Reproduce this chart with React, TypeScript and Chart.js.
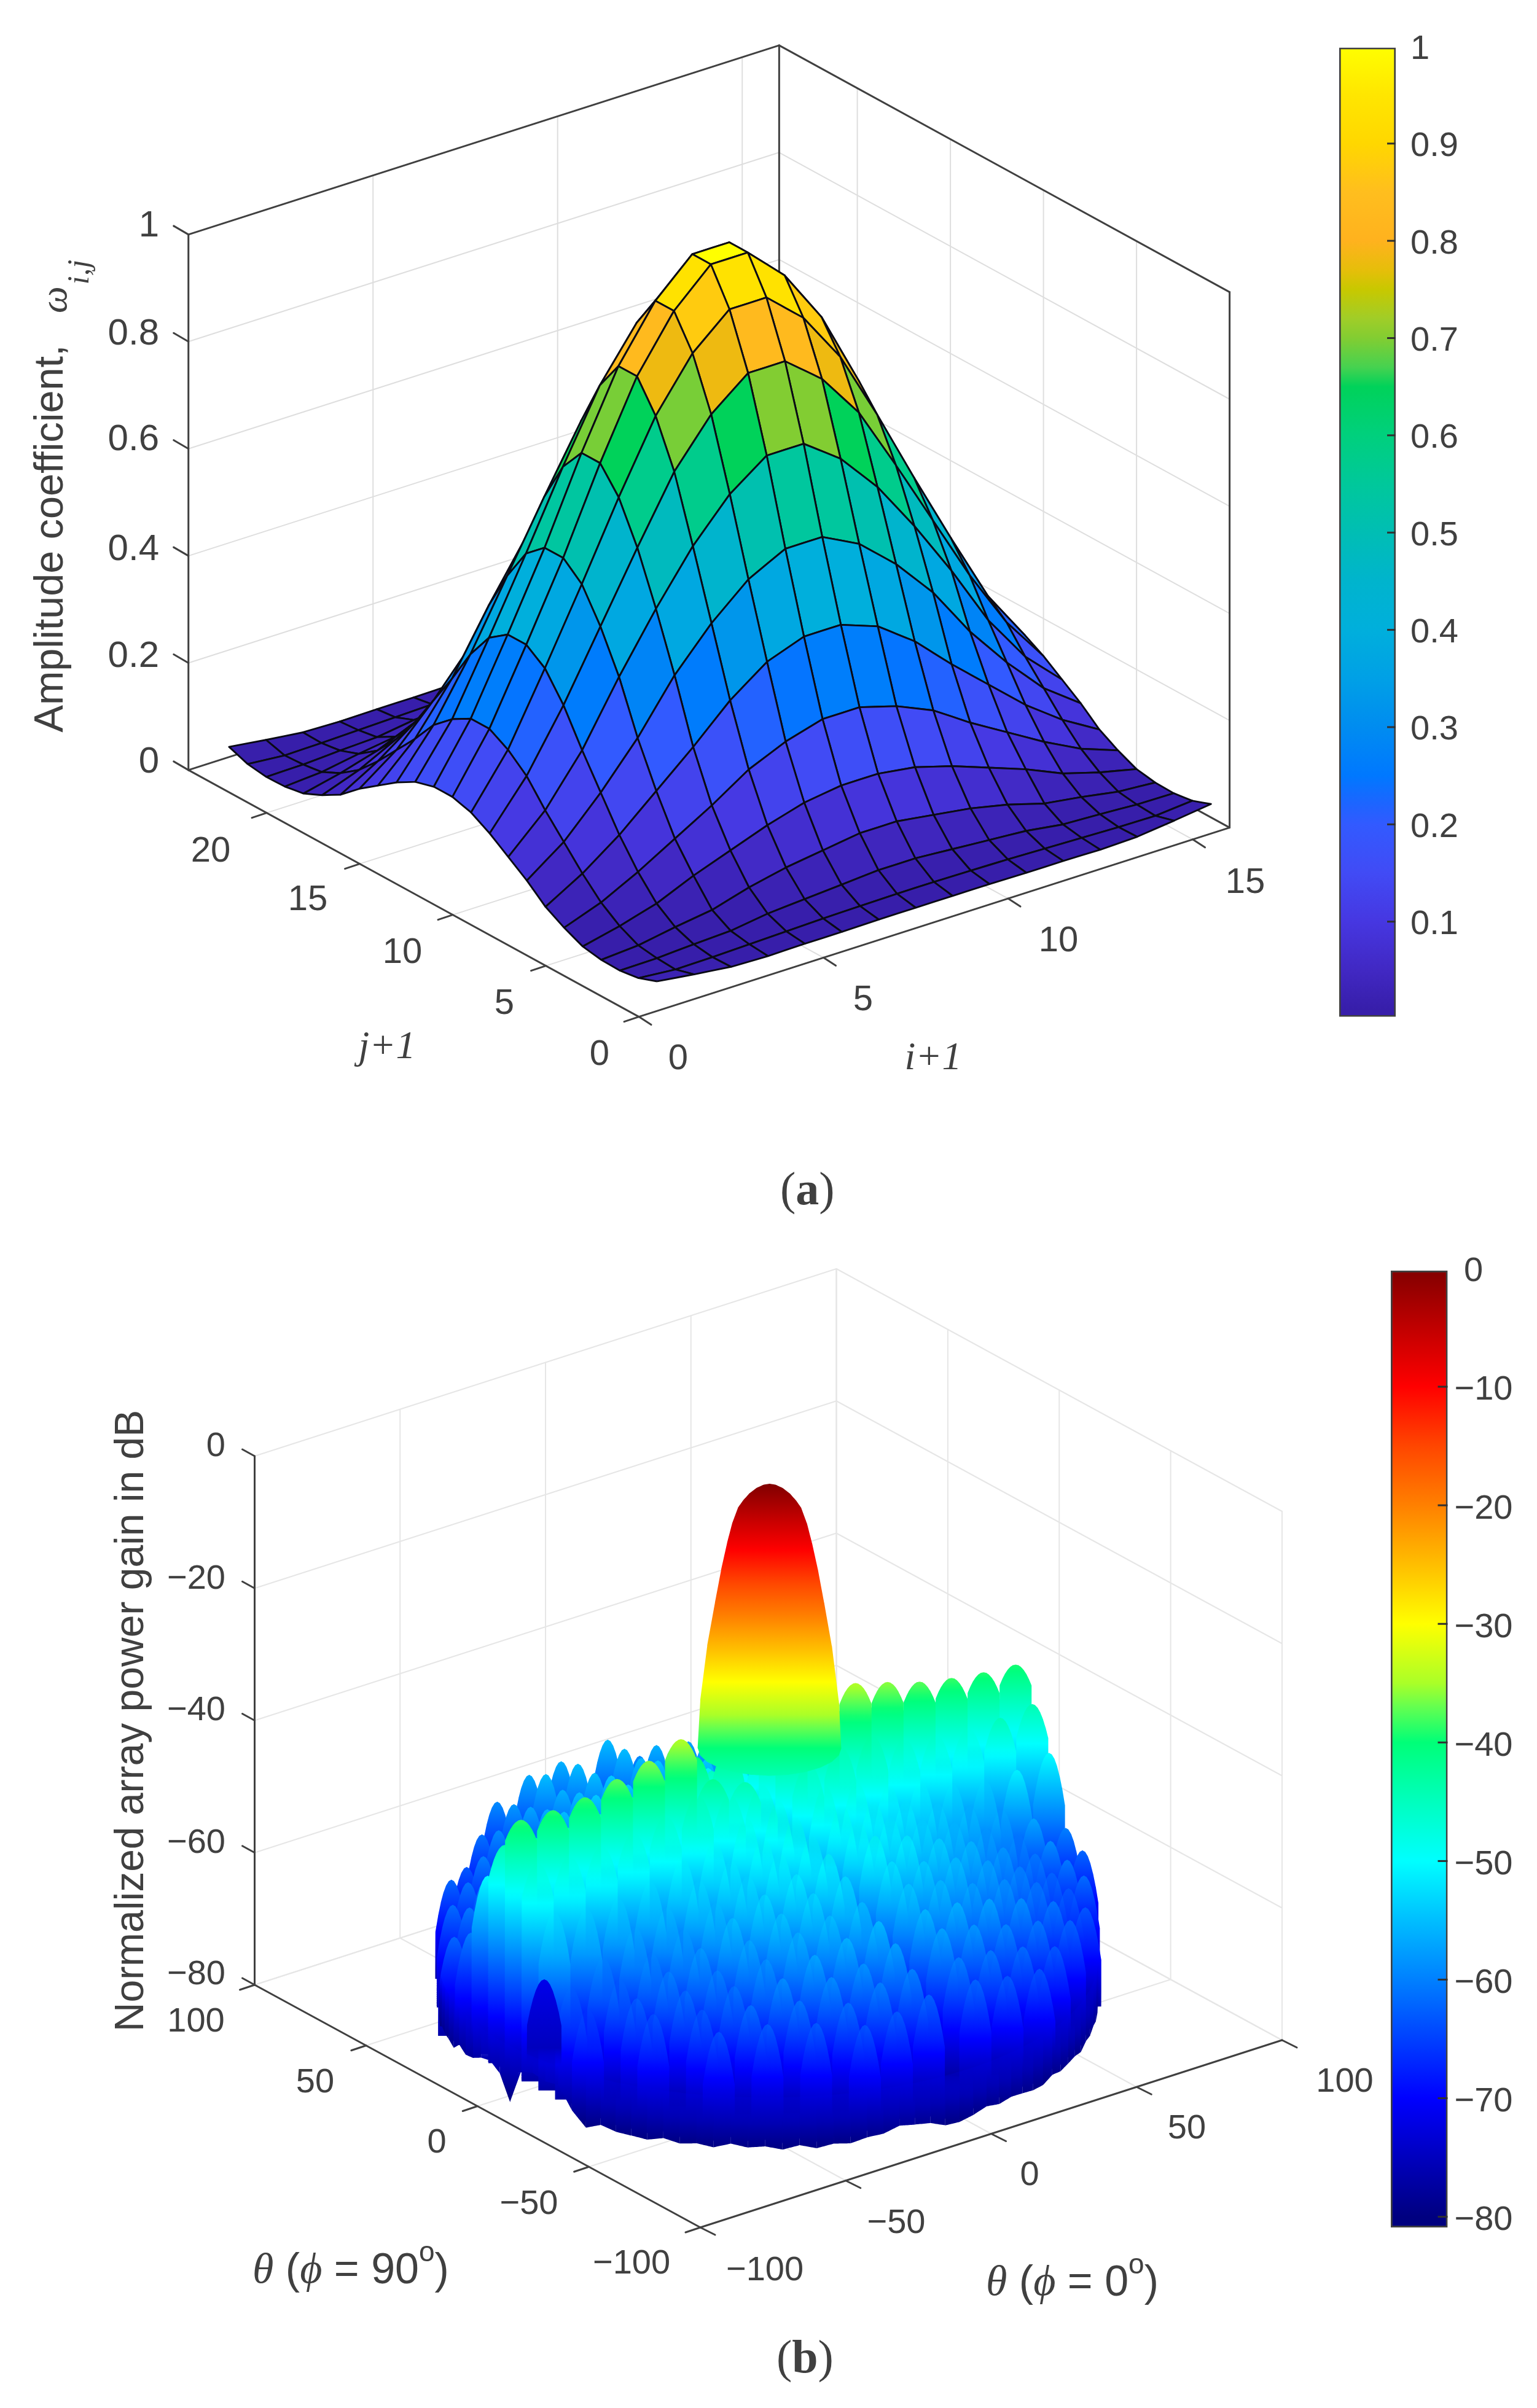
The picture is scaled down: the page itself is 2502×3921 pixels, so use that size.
import { useEffect, useRef } from "react";
import { Chart, registerables } from "chart.js";

Chart.register(...registerables);

/* ---------- panel (a): amplitude coefficients, rows j+1 = 1..24, columns i+1 = 1..16 ---------- */
const ampRows: number[][] = [
  [.025,.016,.008,.006,.007,.007,.008,.008,.008,.008,.007,.007,.006,.008,.016,.025],
  [.012,.006,.007,.009,.011,.013,.014,.015,.015,.014,.013,.011,.009,.007,.006,.012],
  [.007,.008,.012,.015,.025,.03,.035,.04,.04,.035,.03,.025,.015,.012,.008,.007],
  [.008,.013,.025,.035,.055,.07,.08,.09,.09,.08,.07,.055,.035,.025,.013,.008],
  [.014,.03,.05,.08,.105,.13,.15,.16,.16,.15,.13,.105,.08,.05,.03,.014],
  [.03,.055,.09,.13,.17,.215,.245,.265,.265,.245,.215,.17,.13,.09,.055,.03],
  [.05,.09,.14,.2,.26,.325,.375,.4,.4,.375,.325,.26,.2,.14,.09,.05],
  [.08,.13,.2,.28,.375,.45,.51,.545,.545,.51,.45,.375,.28,.2,.13,.08],
  [.105,.17,.26,.375,.48,.575,.65,.7,.7,.65,.575,.48,.375,.26,.17,.105],
  [.13,.215,.325,.45,.575,.695,.78,.835,.835,.78,.695,.575,.45,.325,.215,.13],
  [.15,.245,.375,.51,.65,.78,.875,.935,.935,.875,.78,.65,.51,.375,.245,.15],
  [.16,.265,.4,.54,.695,.835,.935,1,1,.935,.835,.695,.54,.4,.265,.16],
  [.16,.265,.4,.54,.695,.835,.935,1,1,.935,.835,.695,.54,.4,.265,.16],
  [.15,.245,.375,.51,.65,.78,.875,.935,.935,.875,.78,.65,.51,.375,.245,.15],
  [.13,.215,.325,.45,.575,.695,.78,.835,.835,.78,.695,.575,.45,.325,.215,.13],
  [.105,.17,.26,.375,.48,.575,.65,.7,.7,.65,.575,.48,.375,.26,.17,.105],
  [.08,.13,.2,.28,.375,.45,.51,.545,.545,.51,.45,.375,.28,.2,.13,.08],
  [.05,.09,.14,.2,.26,.325,.375,.4,.4,.375,.325,.26,.2,.14,.09,.05],
  [.03,.055,.09,.13,.17,.215,.245,.265,.265,.245,.215,.17,.13,.09,.055,.03],
  [.014,.03,.05,.08,.105,.13,.15,.16,.16,.15,.13,.105,.08,.05,.03,.014],
  [.008,.013,.025,.035,.055,.07,.08,.09,.09,.08,.07,.055,.035,.025,.013,.008],
  [.007,.008,.012,.015,.025,.03,.035,.04,.04,.035,.03,.025,.015,.012,.008,.007],
  [.012,.006,.007,.009,.011,.013,.014,.015,.015,.014,.013,.011,.009,.007,.006,.012],
  [.025,.016,.008,.006,.007,.007,.008,.008,.008,.008,.007,.007,.006,.008,.016,.025],
];
const ampITicks = [0, 5, 10, 15];
const ampJTicks = [0, 5, 10, 15, 20];
const ampZTicks = [0, 0.2, 0.4, 0.6, 0.8, 1];
const ampZTickLabels = ["0", "0.2", "0.4", "0.6", "0.8", "1"];
const ampBarTicks = [0.1, 0.2, 0.3, 0.4, 0.5, 0.6, 0.7, 0.8, 0.9, 1];
const ampBarValues = [0, 0.01, 0.05, 0.1, 0.15, 0.2, 0.22, 0.25, 0.3, 0.35, 0.4, 0.45, 0.5, 0.55, 0.6, 0.65, 0.67, 0.7, 0.72, 0.75, 0.77, 0.8, 0.85, 0.9, 0.95, 1];
const ampBarColors = ["#371eaa", "#371eaa", "#4128c3", "#4637e1", "#414bf5", "#325aff", "#1e64ff", "#0078ff", "#008cf0", "#00a0e6", "#00afdc", "#00b4cd", "#00beb4", "#00c89b", "#00d07d", "#00d25a", "#46d250", "#82cd32", "#a0cd28", "#c8c800", "#e6be0a", "#ffb21e", "#ffbe1e", "#ffd700", "#ffe600", "#ffff00"];

/* ---------- panel (b): sidelobe peak gains in dB ---------- */
const lobeThetaX = [-85, -74, -63, -52, -41, -30, -19, -8, 8, 19, 30, 41, 52, 63, 74, 85];
const lobeThetaY = [82.5, 75, 67.5, 60, 52.5, 45, 37.5, 30, 22.5, 15, 7.5, 0, -7.5, -15, -22.5, -30, -37.5, -45, -52.5, -60, -67.5, -75, -82.5];
const n = null;
const lobePeaks: (number | null)[][] = [
  [n,n,n,n,n,-59,-56.5,-56,-55,-59,-60,n,n,n,n,n],
  [n,n,n,n,-61,-58,-55,-55,-55,-56,-57,-58,n,n,n,n],
  [n,n,n,-63,-59,-57,-56,-55,-55,-55,-56,-57,-58,n,n,n],
  [n,n,-62,-60,-58,-56,-55,-54,-54,-55,-55,-56,-57,-58,n,n],
  [n,n,-61,-59,-57,-55,-54,-54,-53,-54,-55,-55,-56,-57,n,n],
  [n,-61.5,-59.5,-58,-56,-54,-53,-53,-52,-53,-54,-54,-55,-56,-57,n],
  [n,-60.5,-58,-57,-55,-53,-52,-52,-51,-52,-53,-53,-54,-55,-56,n],
  [-62,-59,-56.5,-57,-54,-52,-51,-50,-50,-51,-52,-52,-53,-54,-55,-56],
  [-60,-57,-54,-55,-52,-50,-49,-48,-48,-49,-50,-50,-51,-52,-53,-54],
  [-50,-51,-51,-50,-49,-47,-46,-45,-45,-46,-47,-47,-48,-49,-50,-52],
  [-44,-44.5,-44.5,-44,-43,-42,-40,-40,-38,-38,-40,-41,-43,-44,-45,-46],
  [-38.8,-38.9,-38.5,-37.3,-36.1,-34.4,-42,-44,-30,-33,-34.4,-35.8,-37.3,-38.3,-39,-39.4],
  [-44,-44.5,-44.5,-44,-43,-41.5,-43,-43,-42,-41,-41,-43,-44,-44.5,-44.5,-44],
  [-50,-51,-51,-50,-48,-47,-45,-44,-44,-45,-47,-48,-50,-51,-51,-50],
  [-60,-57,-54,-52.5,-50,-48.5,-46.5,-45,-45.5,-46.5,-48,-50,-52,-54,-57,-60],
  [-62,-59,-56.5,-54.5,-52,-49.5,-47.5,-46.5,-46.5,-47.5,-49.5,-51.5,-54,-56.5,-59,-62],
  [n,-60.5,-58,-56,-53,-51,-49.5,-48,-47.5,-49,-51,-53,-55.5,-58,-60.5,n],
  [n,-61.5,-59.5,-58,-55,-52.5,-51,-50,-50,-51.5,-52.5,-54.5,-57,-59.5,-61.5,n],
  [n,n,-61,-59,-56.5,-54,-53,-52.5,-52,-53,-55,-56,-58,-60.5,n,n],
  [n,n,-63,-60.5,-58,-56,-55,-54,-54.5,-55,-56,-57.5,-59.5,-62,n,n],
  [n,n,n,-62,-60,-58,-57.5,-56,-56,-57,-58.5,-59.5,-61,n,n,n],
  [n,n,n,n,-62,-60.5,-59,-58.5,-59,-59.5,-60.5,-62,n,n,n,n],
  [n,n,n,n,n,-62.5,-62,-61,-61,-62,-62.5,n,n,n,n,n],
];
const humpThetaX = [-66.7];
const humpThetaY = [13.5];
const humpPeak = [-68];
const mainLobeDb = [0, -0.15, -0.65, -1.5, -2.5, -3.6, -6, -9, -13, -18, -24.5, -32.8, -40];
const mainLobeHalfWidth = [0, 1.6, 3.6, 5.6, 7.2, 8.6, 10.2, 11.6, 13.2, 14.9, 17, 18.9, 19.6];
const rimAngles = [142,145,148,151,154,157,160,163,166,169,172,175,178,181,184,187,190,193,196,199,202,205,208,211,214,217,220,223,226,229,232,235,238,241,244,247,250,253,256,259,262,265,268,271,274,277,280,283,286,289,292,295,298,301,304,307,310,313,316,319,322];
const rimDb = [-79.5,-79.5,-80,-79,-79,-78.8,-79,-77.5,-78,-77.5,-76.5,-76,-77,-80.5,-75,-74.5,-75,-74.8,-78,-80,-79,-79.5,-79.6,-79.8,-79.2,-79.7,-79.4,-79.8,-79.1,-79.6,-79.4,-79.9,-79.3,-79.9,-79.4,-79.6,-79,-78.8,-78,-78.3,-78.6,-79.5,-79.6,-79.2,-78.6,-79,-78.7,-79,-79.4,-79.5,-78.9,-79.3,-79.1,-79,-79.4,-78.8,-79,-78.6,-79,-78.8,-78.6];
const gainXYTicks = [-100, -50, 0, 50, 100];
const gainZTicks = [0, -20, -40, -60, -80];
const gainBarTicks = [0, -10, -20, -30, -40, -50, -60, -70, -80];
const gainBarValues = [-82, -80, -75, -70, -65, -60, -55, -50, -45, -40, -37, -35, -30, -25, -20, -15, -10, -5, 0];
const gainBarColors = ["#000080", "#000080", "#0000be", "#0000ff", "#0040ff", "#0080ff", "#00beff", "#00ffff", "#00ffbe", "#00ff78", "#64ff50", "#aaff28", "#ffff00", "#ffbe00", "#ff8000", "#ff4600", "#ff0000", "#c00000", "#800000"];

/* ---------- text ---------- */
const TEXT = "#404040";
const SANS = '"Liberation Sans"';
const SERIF = '"Liberation Serif"';
const minus = (v: number) => (v < 0 ? "\u2212" + Math.abs(v) : String(v));

/* ---------- projections of the three-dimensional boxes onto the page ---------- */
const AMP_I_MAX = 16;
const AMP_J_MAX = 24.2;
const ampProj = (i: number, j: number, z: number) => ({ x: 1040 + 60.1 * i - 30.3 * j, y: 1655.6 - 19.25 * i - 16.6 * j - 872 * z });
const gainProj = (tx: number, ty: number, db: number) => ({ x: 1250.75 + 4.735 * tx - 3.6275 * ty, y: 3277 - 1.525 * tx - 1.975 * ty - (db + 80) * 10.7625 });

const hex = (h: string) => [parseInt(h.slice(1, 3), 16), parseInt(h.slice(3, 5), 16), parseInt(h.slice(5, 7), 16)];
function ramp(values: number[], colors: string[], v: number, alpha = 1) {
  let k = 1;
  while (k < values.length - 1 && v > values[k]) k++;
  const f = Math.max(0, Math.min(1, (v - values[k - 1]) / (values[k] - values[k - 1])));
  const a = hex(colors[k - 1]);
  const b = hex(colors[k]);
  return `rgba(${a.map((c, m) => Math.round(c + (b[m] - c) * f)).join(",")},${alpha})`;
}

type P = { x: number; y: number };
const lineDs = (pts: P[], color: string, width: number) => ({
  type: "line", data: pts, borderColor: color, borderWidth: width, fill: false, pointRadius: 0, tension: 0.001, clip: false, borderCapStyle: "round",
});
const polyDs = (pts: P[], bg: any, border: string, width: number) => ({
  type: "line", data: [...pts, pts[0]], backgroundColor: bg, borderColor: border, borderWidth: width, fill: "shape", pointRadius: 0, tension: 0.001, clip: false, borderJoinStyle: "round",
});
const off = (p: P, dx: number, dy: number) => ({ x: p.x + dx, y: p.y + dy });

/* a fill that depends only on the gain at the height of each pixel; the tip may fade in softly */
function gainFill(tx: number, ty: number, top: number, base: number, tipAlpha = 1, fadePx = 70) {
  let cache: any = null;
  return (c: any) => {
    if (cache) return cache;
    const sy = c.chart.scales.y;
    const y0 = sy ? sy.getPixelForValue(gainProj(tx, ty, top).y) : NaN;
    const y1 = sy ? sy.getPixelForValue(gainProj(tx, ty, base).y) : NaN;
    if (!Number.isFinite(y0) || !Number.isFinite(y1)) return "#0000ff";
    const g = c.chart.ctx.createLinearGradient(0, y0, 0, y1);
    const steps = Math.ceil(top - base);
    for (let s = 0; s <= steps; s++) {
      const f = s / steps;
      const alpha = Math.min(1, tipAlpha + ((1 - tipAlpha) * f * (y1 - y0)) / fadePx);
      g.addColorStop(f, ramp(gainBarValues, gainBarColors, top - f * (top - base), alpha));
    }
    cache = g;
    return g;
  };
}
/* darker arch: a gentle fall of colour from its crest to where it merges into the lower rim */
function archFill(yTop: number, yBottom: number, colTop: string, colBottom: string) {
  return (c: any) => {
    const sy = c.chart.scales.y;
    const y0 = sy ? sy.getPixelForValue(yTop) : NaN;
    const y1 = sy ? sy.getPixelForValue(yBottom) : NaN;
    if (!Number.isFinite(y0) || !Number.isFinite(y1)) return colTop;
    const g = c.chart.ctx.createLinearGradient(0, y0, 0, y1);
    g.addColorStop(0, colTop);
    g.addColorStop(0.8, colBottom);
    g.addColorStop(1, colBottom.replace(",1)", ",0)"));
    return g;
  };
}

function ampDatasets() {
  const grid = "#dedede";
  const dark = "#404040";
  const out: any[] = [];
  const L = (a: P, b: P, col = grid, w = 2) => out.push(lineDs([a, b], col, w));
  ampZTicks.slice(1, -1).forEach((z) => {
    L(ampProj(0, AMP_J_MAX, z), ampProj(AMP_I_MAX, AMP_J_MAX, z));
    L(ampProj(AMP_I_MAX, 0, z), ampProj(AMP_I_MAX, AMP_J_MAX, z));
  });
  ampITicks.slice(1).forEach((i) => {
    L(ampProj(i, 0, 0), ampProj(i, AMP_J_MAX, 0));
    L(ampProj(i, AMP_J_MAX, 0), ampProj(i, AMP_J_MAX, 1));
  });
  ampJTicks.slice(1).forEach((j) => {
    L(ampProj(0, j, 0), ampProj(AMP_I_MAX, j, 0));
    L(ampProj(AMP_I_MAX, j, 0), ampProj(AMP_I_MAX, j, 1));
  });
  const e: [number, number, number, number, number, number][] = [
    [0, AMP_J_MAX, 0, 0, AMP_J_MAX, 1], [0, AMP_J_MAX, 1, AMP_I_MAX, AMP_J_MAX, 1], [AMP_I_MAX, AMP_J_MAX, 1, AMP_I_MAX, 0, 1],
    [AMP_I_MAX, AMP_J_MAX, 0, AMP_I_MAX, AMP_J_MAX, 1], [AMP_I_MAX, 0, 0, AMP_I_MAX, 0, 1], [0, 0, 0, AMP_I_MAX, 0, 0], [0, 0, 0, 0, AMP_J_MAX, 0],
    [0, AMP_J_MAX, 0, AMP_I_MAX, AMP_J_MAX, 0], [AMP_I_MAX, 0, 0, AMP_I_MAX, AMP_J_MAX, 0],
  ];
  e.forEach((q) => L(ampProj(q[0], q[1], q[2]), ampProj(q[3], q[4], q[5]), dark, 3));
  ampZTicks.forEach((z) => { const p = ampProj(0, AMP_J_MAX, z); L(p, off(p, -24, -14), dark, 3); });
  ampITicks.forEach((i) => { const p = ampProj(i, 0, 0); L(p, off(p, 20, 13), dark, 3); });
  ampJTicks.forEach((j) => { const p = ampProj(0, j, 0); L(p, off(p, -24, 8), dark, 3); });
  for (let j = ampRows.length - 2; j >= 0; j--) {
    for (let i = ampRows[0].length - 2; i >= 0; i--) {
      const pts = [
        ampProj(i + 1, j + 1, ampRows[j][i]),
        ampProj(i + 2, j + 1, ampRows[j][i + 1]),
        ampProj(i + 2, j + 2, ampRows[j + 1][i + 1]),
        ampProj(i + 1, j + 2, ampRows[j + 1][i]),
      ];
      out.push(polyDs(pts, ramp(ampBarValues, ampBarColors, ampRows[j][i]), "#0a0a14", 2.9));
    }
  }
  return out.reverse();
}

function gainDatasets() {
  const grid = "#e6e6e6";
  const dark = "#404040";
  const out: any[] = [];
  const L = (a: P, b: P, col = grid, w = 2) => out.push(lineDs([a, b], col, w));
  gainZTicks.forEach((z) => {
    L(gainProj(-100, 100, z), gainProj(100, 100, z));
    L(gainProj(100, -100, z), gainProj(100, 100, z));
  });
  gainXYTicks.forEach((t) => {
    L(gainProj(t, -100, -80), gainProj(t, 100, -80));
    L(gainProj(-100, t, -80), gainProj(100, t, -80));
    L(gainProj(t, 100, -80), gainProj(t, 100, 0));
    L(gainProj(100, t, -80), gainProj(100, t, 0));
  });
  L(gainProj(-100, 100, -80), gainProj(-100, 100, 0), dark, 3);
  L(gainProj(-100, -100, -80), gainProj(100, -100, -80), dark, 3);
  L(gainProj(-100, -100, -80), gainProj(-100, 100, -80), dark, 3);
  gainZTicks.forEach((z) => { const p = gainProj(-100, 100, z); L(p, off(p, -20, -11), dark, 3); });
  gainXYTicks.forEach((t) => {
    const a = gainProj(t, -100, -80); L(a, off(a, 24, 12), dark, 3);
    const b = gainProj(-100, t, -80); L(b, off(b, -24, 8), dark, 3);
  });

  const rim = (deg: number, db: number) => {
    const a = (deg * Math.PI) / 180;
    return gainProj(90 * Math.cos(a), 90 * Math.sin(a), db);
  };
  // dark base under the lobes, so that no gap opens between them near the rim
  out.push(polyDs(rimAngles.map((a, k) => rim(a, rimDb[k] + 1)), "#0000aa", "transparent", 0));

  const arch = (tip: P, baseY: number, hw: number, drop: number) => {
    const pts: P[] = [];
    for (let k = -6; k <= 6; k++) {
      const t = k / 6;
      pts.push({ x: tip.x + hw * t, y: Math.min(baseY, tip.y + drop * t * t) });
    }
    pts.push({ x: tip.x + hw, y: baseY }, { x: tip.x - hw, y: baseY });
    return pts;
  };
  type Item = { key: number; ds: any };
  const items: Item[] = [];
  lobePeaks.forEach((row, r) => {
    row.forEach((peak, c) => {
      if (peak === null) return;
      const tx = lobeThetaX[c];
      const ty = lobeThetaY[r];
      const tip = gainProj(tx, ty, peak);
      const drop = ty === 0 ? 34 : Math.abs(ty) < 8 ? 55 : 85;
      const soft = ty >= 0 ? 1 : ty >= -30 ? 0 : ty >= -52.5 ? 0.35 : 0.7;
      // lobes on the silhouette stay crisp
      const edge = Math.abs(tx) >= 74 && ty < 0 && tx > 0 ? 1 : soft;
      items.push({
        key: gainProj(tx, ty, -80).y,
        ds: polyDs(arch(tip, gainProj(tx, ty, -77).y, 26, drop), gainFill(tx, ty, peak, -80, edge), "transparent", 0),
      });
    });
  });
  // main lobe
  const scaleX = 5.965;
  const centre = gainProj(0, 0, 0);
  const right = mainLobeDb.map((db, k) => ({ x: centre.x + 2 + mainLobeHalfWidth[k] * scaleX, y: gainProj(0, 0, db).y }));
  const left = mainLobeDb.map((db, k) => ({ x: centre.x + 2 - mainLobeHalfWidth[k] * scaleX, y: gainProj(0, 0, db).y })).reverse();
  const hw = mainLobeHalfWidth[mainLobeHalfWidth.length - 1] * scaleX;
  const bottomY = gainProj(0, 0, mainLobeDb[mainLobeDb.length - 1]).y;
  const arc: P[] = [];
  for (let k = 1; k < 12; k++) {
    const a = (k / 12) * Math.PI;
    arc.push({ x: centre.x + 2 + hw * Math.cos(a), y: bottomY + 45 * Math.sin(a) });
  }
  items.push({ key: gainProj(0, 0, -80).y + 1, ds: polyDs([...right, ...arc, ...left.slice(0, -1)], gainFill(0, 0, 0, -80), "transparent", 0) });
  items.sort((a, b) => a.key - b.key);
  items.forEach((it) => out.push(it.ds));
  humpPeak.forEach((peak, k) => {
    const tx = humpThetaX[k];
    const ty = humpThetaY[k];
    const tip = gainProj(tx, ty, peak);
    const baseY = gainProj(tx, ty, -81).y;
    out.push(polyDs(arch(tip, baseY, 28, 75), archFill(tip.y, baseY, "rgba(0,0,235,1)", "rgba(0,0,190,1)"), "transparent", 0));
  });
  // dark skirt along the front of the rim
  for (let k = 0; k < rimAngles.length - 1; k++) {
    const a0 = rimAngles[k];
    const a1 = rimAngles[k + 1];
    const rad = (((a0 + a1) / 2) * Math.PI) / 180;
    out.push(polyDs([rim(a0, -72), rim(a1, -72), rim(a1, rimDb[k + 1]), rim(a0, rimDb[k])], gainFill(90 * Math.cos(rad), 90 * Math.sin(rad), -72, -81, 0.2, 40), "transparent", 0));
  }
  return out.reverse();
}

type TextItem = { t: string; x: number; y: number; font: string; align?: CanvasTextAlign; rot?: number };
type Run = { t: string; font: string; dy?: number };

function textPlugin(items: TextItem[], runs: { x: number; y: number; parts: Run[] }[]) {
  return {
    id: "labels3d",
    afterDraw(chart: any) {
      const { ctx, scales } = chart;
      ctx.save();
      ctx.fillStyle = TEXT;
      ctx.textBaseline = "middle";
      items.forEach((it) => {
        ctx.save();
        ctx.translate(scales.x.getPixelForValue(it.x), scales.y.getPixelForValue(it.y));
        if (it.rot) ctx.rotate(it.rot);
        ctx.font = it.font;
        ctx.textAlign = it.align || "center";
        ctx.fillText(it.t, 0, 0);
        ctx.restore();
      });
      runs.forEach((r) => {
        let x = scales.x.getPixelForValue(r.x);
        const y = scales.y.getPixelForValue(r.y);
        ctx.textAlign = "left";
        r.parts.forEach((p) => {
          ctx.font = p.font;
          ctx.fillText(p.t, x, y + (p.dy || 0));
          x += ctx.measureText(p.t).width;
        });
      });
      ctx.restore();
    },
  };
}

const ampZLabelY = [1241, 1069, 895, 716, 544, 368];
const ampILabelPos = [[1104, 1725], [1405, 1629], [1723, 1533], [2027, 1438]];
const ampJLabelPos = [[976, 1718], [821, 1635], [655, 1552], [501, 1466], [343, 1387]];
const gainZLabelY = [2356, 2572, 2786, 3002, 3216];
const gainXLabelPos = [[1245, 3698], [1459, 3621], [1676, 3543], [1932, 3467], [2189, 3391]];
const gainYLabelPos = [[1028, 3687], [861, 3590], [711, 3490], [513, 3392], [319, 3293]];

function ampText(): TextItem[] {
  const f = `58px ${SANS}`;
  return [
    ...ampZTicks.map((_, k) => ({ t: ampZTickLabels[k], x: 259, y: ampZLabelY[k], font: `60px ${SANS}`, align: "right" as CanvasTextAlign })),
    ...ampITicks.map((v, k) => ({ t: String(v), x: ampILabelPos[k][0], y: ampILabelPos[k][1], font: f })),
    ...ampJTicks.map((v, k) => ({ t: String(v), x: ampJLabelPos[k][0], y: ampJLabelPos[k][1], font: f })),
    { t: "j+1", x: 630, y: 1706, font: `italic 64px ${SERIF}` },
    { t: "i+1", x: 1519, y: 1724, font: `italic 64px ${SERIF}` },
    { t: "Amplitude coefficient,", x: 84, y: 877, rot: -Math.PI / 2, font: `66.5px ${SANS}` },
    { t: "\u03c9", x: 92, y: 488, rot: -Math.PI / 2, font: `italic 62px ${SERIF}` },
    { t: "i,j", x: 131, y: 443, rot: -Math.PI / 2, font: `italic 50px ${SERIF}` },
  ];
}
function gainText(): TextItem[] {
  const f = `56px ${SANS}`;
  return [
    ...gainZTicks.map((v, k) => ({ t: minus(v), x: 367, y: gainZLabelY[k], font: f, align: "right" as CanvasTextAlign })),
    ...gainXYTicks.map((v, k) => ({ t: minus(v), x: gainXLabelPos[k][0], y: gainXLabelPos[k][1], font: f })),
    ...gainXYTicks.map((v, k) => ({ t: minus(v), x: gainYLabelPos[k][0], y: gainYLabelPos[k][1], font: f })),
    { t: "Normalized array power gain in dB", x: 215, y: 2802, rot: -Math.PI / 2, font: `66px ${SANS}` },
  ];
}

const thetaRuns = (x: number, y: number, deg: string) => ({
  x, y,
  parts: [
    { t: "\u03b8", font: `italic 70px ${SERIF}` },
    { t: " (", font: `70px ${SANS}` },
    { t: "\u03d5", font: `italic 70px ${SERIF}` },
    { t: ` = ${deg}`, font: `70px ${SANS}` },
    { t: "o", font: `46px ${SANS}`, dy: -30 },
    { t: ")", font: `70px ${SANS}` },
  ] as Run[],
});
const paneRuns = (x: number, y: number, letter: string) => ({
  x, y,
  parts: [
    { t: "(", font: `76px ${SERIF}` },
    { t: letter, font: `bold 76px ${SERIF}` },
    { t: ")", font: `76px ${SERIF}` },
  ] as Run[],
});

function surfaceChart(canvas: HTMLCanvasElement, top: number, height: number, datasets: any[], plugin: any) {
  return new Chart(canvas, {
    type: "line",
    data: { datasets },
    options: {
      responsive: false,
      animation: false,
      devicePixelRatio: 1,
      events: [],
      layout: { padding: 0 },
      plugins: { legend: { display: false }, tooltip: { enabled: false } },
      scales: {
        x: { type: "linear", min: 0, max: 2502, display: false },
        y: { type: "linear", min: top, max: top + height, reverse: true, display: false },
      },
    } as any,
    plugins: [plugin],
  } as any);
}

function colorBar(canvas: HTMLCanvasElement, o: { lo: number; hi: number; ticks: number[]; values: number[]; colors: string[]; pad: any; labelPad: number; font: number; tickLen: number; labelOffset: number; fmt: (v: number) => string; barWidth: number }) {
  return new Chart(canvas, {
    type: "bar",
    data: {
      labels: [""],
      datasets: [{
        data: [[o.lo, o.hi]],
        barPercentage: 1,
        categoryPercentage: 1,
        borderColor: "#404040",
        borderWidth: 3,
        borderSkipped: false,
        backgroundColor: (c: any) => {
          const sy = c.chart.scales.y;
          const y0 = sy ? sy.getPixelForValue(o.lo) : NaN;
          const y1 = sy ? sy.getPixelForValue(o.hi) : NaN;
          if (!Number.isFinite(y0) || !Number.isFinite(y1)) return "#000";
          const g = c.chart.ctx.createLinearGradient(0, y0, 0, y1);
          g.addColorStop(0, ramp(o.values, o.colors, o.lo));
          o.values.forEach((v, k) => {
            const f = (v - o.lo) / (o.hi - o.lo);
            if (f > 0 && f < 1) g.addColorStop(f, o.colors[k]);
          });
          g.addColorStop(1, ramp(o.values, o.colors, o.hi));
          return g;
        },
      }],
    },
    options: {
      responsive: false,
      animation: false,
      devicePixelRatio: 1,
      events: [],
      layout: { padding: o.pad },
      plugins: { legend: { display: false }, tooltip: { enabled: false } },
      scales: {
        x: { display: false },
        y: {
          position: "right",
          min: o.lo,
          max: o.hi,
          grid: { display: false, drawTicks: false },
          border: { display: false },
          afterBuildTicks: (s: any) => { s.ticks = o.ticks.map((value) => ({ value })); },
          afterFit: (s: any) => { s.width = canvas.width - o.pad.left - o.barWidth; },
          ticks: {
            autoSkip: false, maxRotation: 0, padding: o.labelPad, labelOffset: o.labelOffset, color: TEXT,
            font: { family: "Liberation Sans", size: o.font },
            callback: (v: any) => o.fmt(Number(v)),
          },
        },
      },
    } as any,
    plugins: [{
      id: "barTicks",
      afterDatasetsDraw(chart: any) {
        const { ctx, scales, chartArea } = chart;
        ctx.save();
        ctx.strokeStyle = "#303030";
        ctx.lineWidth = 3;
        o.ticks.forEach((v) => {
          if (v >= o.hi) return;
          const y = scales.y.getPixelForValue(v);
          ctx.beginPath();
          ctx.moveTo(chartArea.right - o.tickLen, y);
          ctx.lineTo(chartArea.right, y);
          ctx.stroke();
        });
        ctx.restore();
      },
    }],
  } as any);
}

export default function App() {
  const a = useRef<HTMLCanvasElement>(null);
  const b = useRef<HTMLCanvasElement>(null);
  const c = useRef<HTMLCanvasElement>(null);
  const d = useRef<HTMLCanvasElement>(null);
  useEffect(() => {
    document.body.style.margin = "0";
    const charts = [
      surfaceChart(a.current!, 0, 2020, ampDatasets(), textPlugin(ampText(), [paneRuns(1270, 1941, "a")])),
      surfaceChart(b.current!, 2020, 1901, gainDatasets(), textPlugin(gainText(), [thetaRuns(411, 3699, "90"), thetaRuns(1605, 3719, "0"), paneRuns(1264, 3843, "b")])),
      colorBar(c.current!, {
        lo: 0.0022, hi: 0.9986, ticks: ampBarTicks, values: ampBarValues, colors: ampBarColors,
        pad: { left: 10, right: 0, top: 56.5, bottom: 64.4 }, labelPad: 24, font: 56, tickLen: 14, labelOffset: 5,
        fmt: (v) => String(v), barWidth: 92,
      }),
      colorBar(d.current!, {
        lo: -80.9, hi: -0.21, ticks: gainBarTicks, values: gainBarValues, colors: gainBarColors,
        pad: { left: 10, right: 0, top: 59, bottom: 63 }, labelPad: 11, font: 56, tickLen: 16, labelOffset: 6,
        fmt: (v) => (v === 0 ? " 0" : minus(v)), barWidth: 92.5,
      }),
    ];
    return () => charts.forEach((ch) => ch.destroy());
  }, []);
  const abs = (left: number, top: number) => ({ position: "absolute" as const, left, top, display: "block" });
  return (
    <div style={{ position: "absolute", left: 0, top: 0, width: 2502, height: 3921, overflow: "hidden", background: "#fff" }}>
      <canvas ref={a} width={2502} height={2020} style={abs(0, 0)} />
      <canvas ref={b} width={2502} height={1901} style={abs(0, 2020)} />
      <canvas ref={c} width={322} height={1700} style={abs(2170, 20)} />
      <canvas ref={d} width={238} height={1680} style={abs(2254, 2010)} />
    </div>
  );
}
